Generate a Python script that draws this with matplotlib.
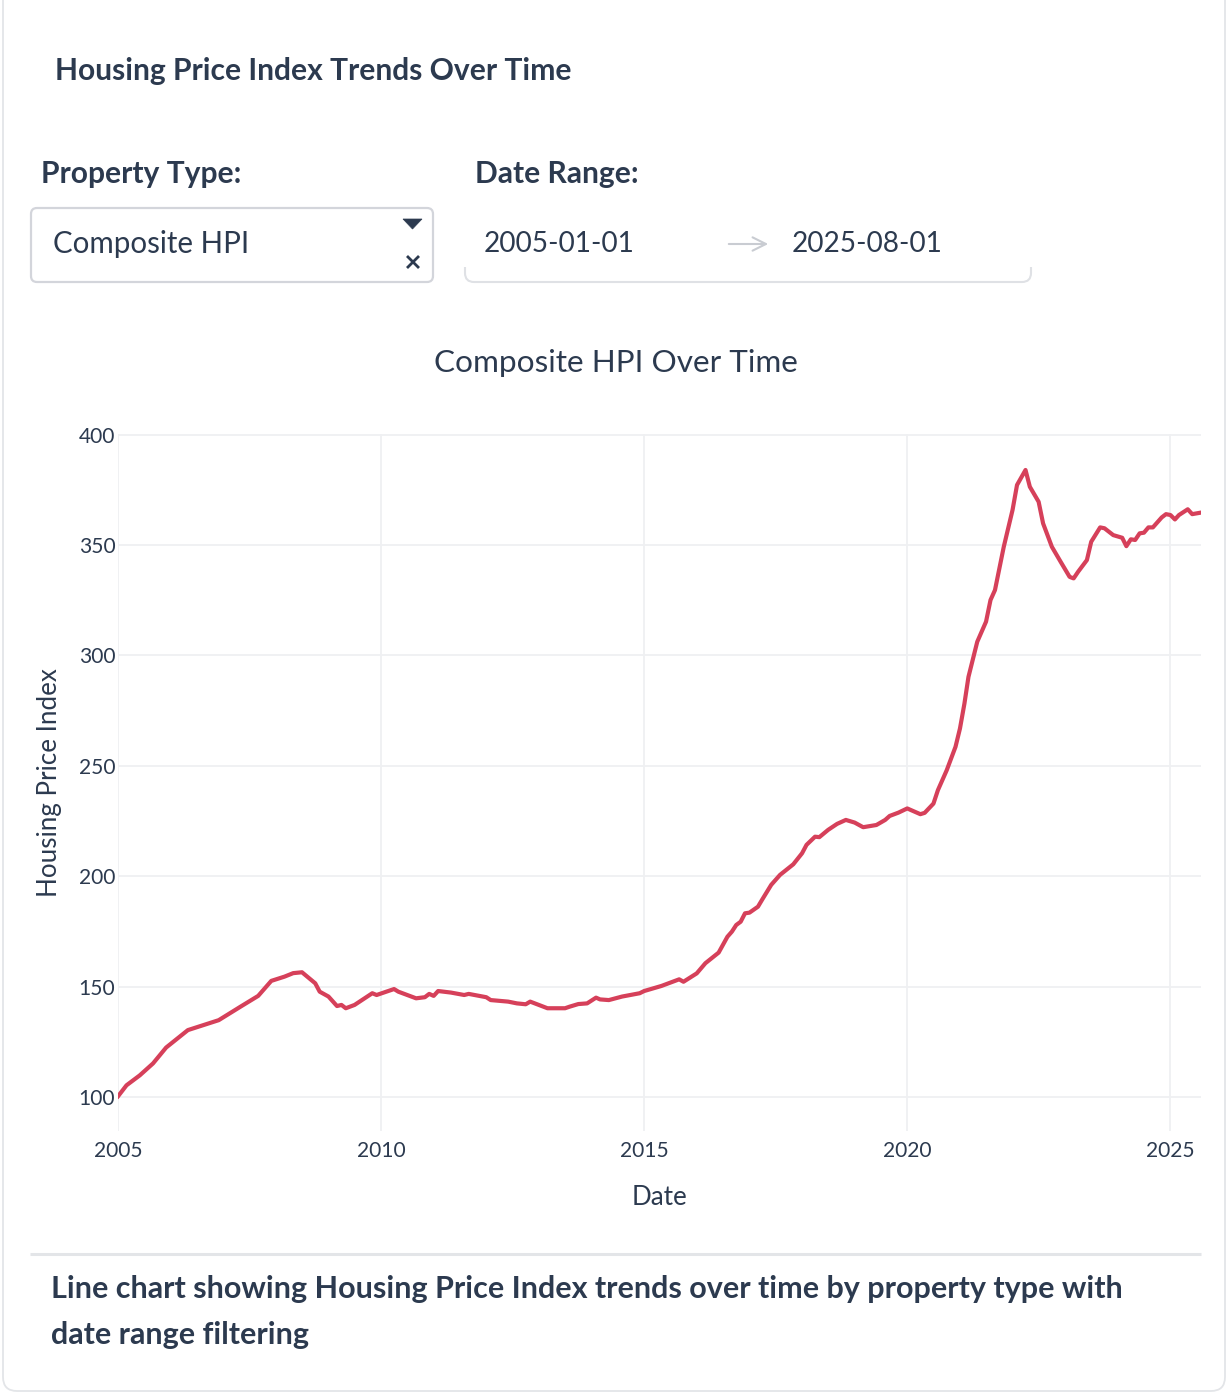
import matplotlib
matplotlib.use("Agg")
import matplotlib.pyplot as plt
import matplotlib.dates as mdates
from matplotlib.patches import FancyBboxPatch, Polygon, Rectangle
import pandas as pd

plt.rcParams['font.family'] = ['Lato', 'DejaVu Sans']

# ---------------- data ----------------
dates = [
    "2005-01", "2005-03", "2005-06", "2005-09", "2005-12", "2006-05", "2006-12",
    "2007-05", "2007-09", "2007-12", "2008-03", "2008-05", "2008-07", "2008-10",
    "2008-11", "2009-01", "2009-03", "2009-04", "2009-05", "2009-07", "2009-11",
    "2009-12", "2010-04", "2010-05", "2010-09", "2010-11", "2010-12", "2011-01",
    "2011-02", "2011-05", "2011-08", "2011-09", "2012-01", "2012-02", "2012-06",
    "2012-08", "2012-10", "2012-11", "2013-03", "2013-07", "2013-08", "2013-10",
    "2013-12", "2014-02", "2014-03", "2014-05", "2014-08", "2014-12", "2015-01",
    "2015-05", "2015-09", "2015-10", "2016-01", "2016-03", "2016-06", "2016-08",
    "2016-09", "2016-10", "2016-11", "2016-12", "2017-01", "2017-03", "2017-04",
    "2017-06", "2017-08", "2017-11", "2018-01", "2018-02", "2018-04", "2018-05",
    "2018-07", "2018-09", "2018-11", "2019-01", "2019-03", "2019-06", "2019-08",
    "2019-09", "2019-11", "2020-01", "2020-04", "2020-05", "2020-07", "2020-08",
    "2020-10", "2020-12", "2021-01", "2021-02", "2021-03", "2021-05", "2021-07",
    "2021-08", "2021-09", "2021-11", "2022-01", "2022-02", "2022-04", "2022-05",
    "2022-07", "2022-08", "2022-10", "2022-12", "2023-02", "2023-03", "2023-04",
    "2023-06", "2023-07", "2023-09", "2023-10", "2023-12", "2024-02", "2024-03",
    "2024-04", "2024-05", "2024-06", "2024-07", "2024-08", "2024-09", "2024-11",
    "2024-12", "2025-01", "2025-02", "2025-03", "2025-05", "2025-06", "2025-08",
]
composite_hpi = [
    100.3, 105.3, 109.8, 115.2, 122.4, 130.3, 134.8,
    140.9, 145.8, 152.6, 154.5, 156.1, 156.5, 151.5,
    147.7, 145.5, 141.2, 141.7, 140.2, 141.7, 147.0,
    146.2, 148.9, 147.7, 144.7, 145.2, 146.7, 145.8,
    148.0, 147.3, 146.2, 146.7, 145.2, 143.9, 143.2,
    142.4, 142.0, 143.2, 140.2, 140.2, 140.9, 142.1,
    142.4, 145.0, 144.2, 143.9, 145.5, 147.0, 148.0,
    150.3, 153.3, 152.2, 156.0, 160.6, 165.4, 172.6,
    174.9, 177.9, 179.4, 183.2, 183.5, 186.2, 189.6,
    196.1, 200.6, 205.4, 210.4, 214.2, 217.9, 217.7,
    221.0, 223.7, 225.5, 224.3, 222.2, 223.2, 225.5,
    227.3, 228.8, 230.7, 228.1, 228.7, 232.9, 239.0,
    248.0, 258.6, 266.9, 278.2, 290.3, 306.2, 315.3,
    325.1, 329.6, 349.2, 365.9, 377.2, 384.0, 376.4,
    369.6, 359.8, 349.2, 342.4, 335.6, 334.9, 337.9,
    343.2, 351.5, 358.0, 357.6, 354.5, 353.3, 349.5,
    352.6, 352.3, 355.3, 355.6, 358.0, 358.0, 362.5,
    364.0, 363.6, 361.6, 363.6, 366.2, 364.0, 364.7,
]
y_ticks = [100, 150, 200, 250, 300, 350, 400]
x_tick_years = [2005, 2010, 2015, 2020, 2025]
date_start = "2005-01-01"
date_end = "2025-08-01"
property_type = "Composite HPI"

# ---------------- figure ----------------
W, H = 1228, 1394
fig = plt.figure(figsize=(W / 100, H / 100), dpi=100)
fig.patch.set_facecolor("white")

TXT = "#2c3a4f"
PX = 0.72  # points per pixel

bg = fig.add_axes([0, 0, 1, 1])
bg.set_xlim(0, W)
bg.set_ylim(H, 0)
bg.axis("off")

# card
bg.add_patch(FancyBboxPatch((3, -20), 1222, 1411, boxstyle="round,pad=0,rounding_size=14",
                            fc="white", ec="#e3e5e8", lw=1.3))

bg.text(55, 71, "Housing Price Index Trends Over Time", fontsize=30 * PX,
        fontweight="bold", color=TXT, va="center", ha="left")

bg.text(41, 174, "Property Type:", fontsize=30 * PX, fontweight="bold",
        color=TXT, va="center", ha="left")
bg.text(475, 174, "Date Range:", fontsize=30 * PX, fontweight="bold",
        color=TXT, va="center", ha="left")

# select box
bg.add_patch(FancyBboxPatch((31, 208), 402, 74, boxstyle="round,pad=0,rounding_size=6",
                            fc="white", ec="#d3d5db", lw=1.6))
bg.text(53, 244, property_type, fontsize=29.5 * PX, color=TXT, va="center", ha="left")
bg.add_patch(Polygon([[403, 219], [422, 219], [412.5, 229]], closed=True, fc=TXT, ec=TXT, lw=0.5))
bg.plot([407, 419], [256, 268], color=TXT, lw=2.0, solid_capstyle="butt")
bg.plot([407, 419], [268, 256], color=TXT, lw=2.0, solid_capstyle="butt")

# date range box (only the lower edge is visible)
bg.add_patch(FancyBboxPatch((465, 206), 566, 76, boxstyle="round,pad=0,rounding_size=9",
                            fc="white", ec="#dfe1e5", lw=1.5))
bg.add_patch(Rectangle((460, 195), 576, 72, fc="white", ec="none"))
bg.text(484, 244, date_start, fontsize=28 * PX, color=TXT, va="center", ha="left")
bg.annotate("", xy=(771, 244), xytext=(726, 244),
            arrowprops=dict(arrowstyle="->", color="#c9ccd2", lw=1.5,
                            mutation_scale=24))
bg.text(792, 244, date_end, fontsize=28 * PX, color=TXT, va="center", ha="left")

# chart title
bg.text(616, 363, f"{property_type} Over Time", fontsize=31.5 * PX, color=TXT,
        va="center", ha="center")

# separator and caption
bg.plot([30, 1201], [1254, 1254], color="#e3e5e8", lw=2.2, solid_capstyle="butt")
bg.text(51, 1289, "Line chart showing Housing Price Index trends over time by property type with",
        fontsize=30.5 * PX, fontweight="bold", color=TXT, va="center", ha="left")
bg.text(51, 1335, "date range filtering",
        fontsize=30.5 * PX, fontweight="bold", color=TXT, va="center", ha="left")

# ---------------- plot ----------------
left, right, top, bottom = 118, 1201, 434, 1131
ax = fig.add_axes([left / W, 1 - bottom / H, (right - left) / W, (bottom - top) / H])
ax.set_facecolor("white")

x = pd.to_datetime(dates)
ax.plot(x, composite_hpi, color="#d6405a", lw=3.0, solid_joinstyle="round", zorder=3)

ax.set_xlim(pd.Timestamp(date_start), pd.Timestamp(date_end))
ax.set_ylim(84.6, 400.3)
ax.set_yticks(y_ticks)
ax.set_xticks([pd.Timestamp(f"{yr}-01-01") for yr in x_tick_years])
ax.xaxis.set_major_formatter(mdates.DateFormatter("%Y"))
ax.grid(True, color="#eff0f2", lw=1.3)
ax.set_axisbelow(True)
for s in ax.spines.values():
    s.set_visible(False)
ax.tick_params(axis="both", length=0, labelsize=21 * PX, labelcolor=TXT)
ax.tick_params(axis="y", pad=2)
ax.tick_params(axis="x", pad=7.5)
ax.set_xlabel("Date", fontsize=26 * PX, color=TXT, labelpad=17)
ax.set_ylabel("Housing Price Index", fontsize=26 * PX, color=TXT, labelpad=12)

fig.savefig("out.png", dpi=100, facecolor="white")
